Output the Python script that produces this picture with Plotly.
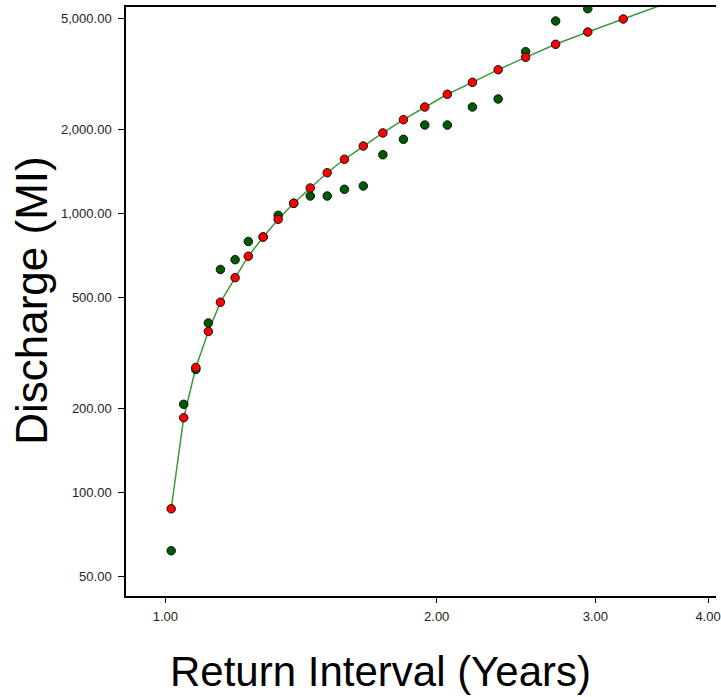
import plotly.graph_objects as go

# Return intervals (years)
return_interval = [1.015, 1.048, 1.081, 1.116, 1.151, 1.195, 1.236, 1.284, 1.334, 1.388,
                   1.448, 1.512, 1.580, 1.658, 1.743, 1.837, 1.940, 2.055, 2.191, 2.340,
                   2.510, 2.710, 2.942, 3.221]
# Fitted discharge (red, on line)
fitted_discharge = [87.6, 185.5, 280.6, 377.6, 480.7, 588.2, 702.1, 822.7, 951.7, 1086,
                    1232, 1397, 1561, 1741, 1939, 2163, 2402, 2667, 2943, 3266,
                    3617, 4026, 4455, 4960]
# Observed discharge (green)
observed_interval = return_interval[:23]
observed_discharge = [62.0, 207.2, 276.0, 405.0, 629.4, 682.3, 792.8, 822.7, 983.5, 1086,
                      1153, 1153, 1219, 1253, 1621, 1840, 2070, 2070, 2402, 2566,
                      3787, 4879, 5399]
# Fitted line continues beyond the last fitted marker
fit_tail_interval = [3.87]
fit_tail_discharge = [6160]

y_ticks = [50, 100, 200, 500, 1000, 2000, 5000]
x_ticks = [1, 2, 3, 4]

fig = go.Figure()
fig.add_trace(go.Scatter(
    x=return_interval + fit_tail_interval, y=fitted_discharge + fit_tail_discharge,
    mode="lines", line=dict(color="#3a9a3a", width=1.5), hoverinfo="skip"))
fig.add_trace(go.Scatter(
    x=observed_interval, y=observed_discharge, mode="markers",
    marker=dict(size=8.5, color="#005a00", line=dict(color="#111111", width=1))))
fig.add_trace(go.Scatter(
    x=return_interval, y=fitted_discharge, mode="markers",
    marker=dict(size=8.5, color="#ff0000", line=dict(color="#111111", width=1))))

L, R, T, B = 126, 0, 7, 101
W, H = 721, 697
x_px_per_dec = 909.0
x_one_px = 165.7
x_lo = (L - x_one_px) / x_px_per_dec
x_hi = (W - R - x_one_px) / x_px_per_dec
y_lo, y_hi = 1.6303, 3.7384

tickfont = dict(family="Liberation Sans", size=13, color="#222222")
fig.update_layout(
    width=W, height=H, margin=dict(l=L, r=R, t=T, b=B, pad=0),
    paper_bgcolor="white", plot_bgcolor="white", showlegend=False,
    xaxis=dict(type="log", range=[x_lo, x_hi], tickvals=x_ticks,
               ticktext=[f"{v:.2f}" for v in x_ticks], ticks="outside", ticklen=5,
               tickcolor="black", showgrid=False, zeroline=False, showline=True,
               linecolor="black", linewidth=1.5, mirror=True, tickfont=tickfont,
               ticklabelstandoff=3, ticklabeloverflow="allow"),
    yaxis=dict(type="log", range=[y_lo, y_hi], tickvals=y_ticks,
               ticktext=[f"{v:,.2f}" for v in y_ticks], ticks="outside", ticklen=6,
               tickcolor="black", showgrid=False, zeroline=False, showline=True,
               linecolor="black", linewidth=1.5, mirror=False, tickfont=tickfont,
               ticklabelstandoff=4, ticklabeloverflow="allow"),
    annotations=[
        dict(text="Return Interval (Years)", xref="paper", yref="paper",
             x=(383 - L) / (W - L - R), y=(H - B - 672) / (H - T - B),
             xanchor="center", yanchor="middle", showarrow=False,
             font=dict(family="Liberation Sans", size=42, color="black")),
        dict(text="Discharge (MI)", xref="paper", yref="paper", textangle=-90,
             x=(30 - L) / (W - L - R), y=(H - B - 300) / (H - T - B),
             xanchor="center", yanchor="middle", showarrow=False,
             font=dict(family="Liberation Sans", size=44, color="black")),
    ],
)
fig.write_html("out.html", config={"displayModeBar": False},
               post_script="document.body.style.margin='0';document.body.style.overflow='hidden';")
